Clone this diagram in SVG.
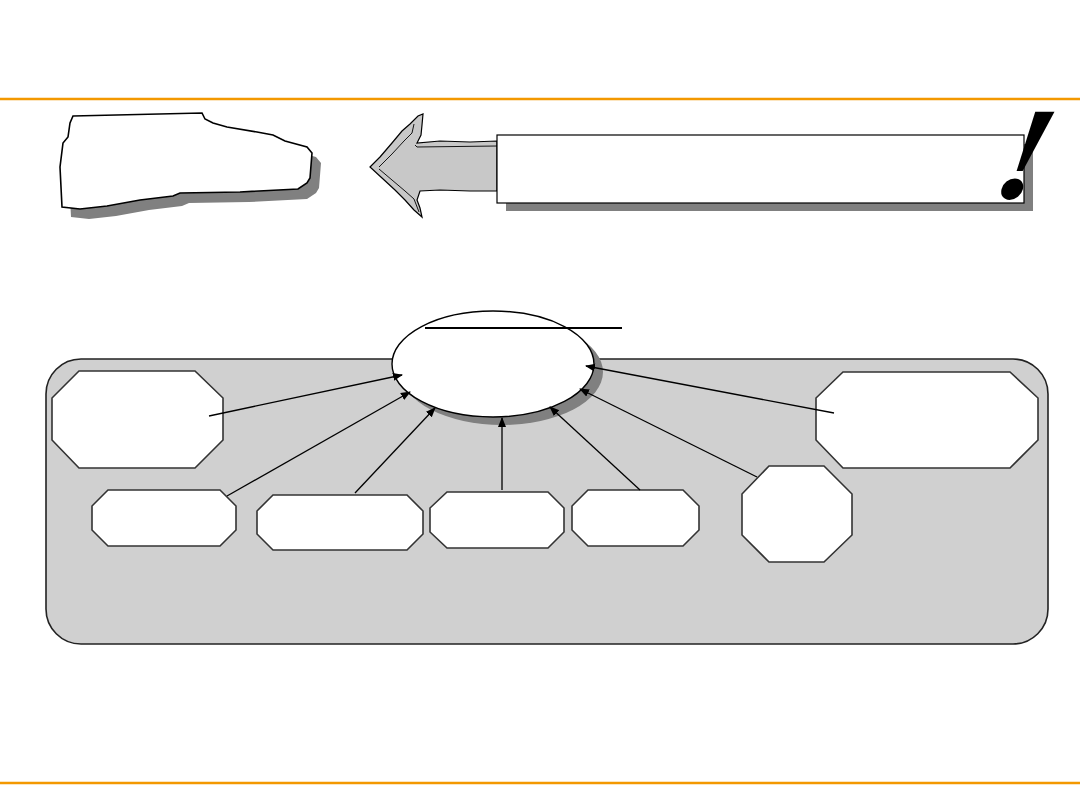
<svg xmlns="http://www.w3.org/2000/svg" width="1080" height="810" viewBox="0 0 1080 810">
<style>
.rule{stroke:#F39800;stroke-width:2.5;fill:none}
.oct{fill:#FFFFFF;stroke:#333333;stroke-width:1.6}
.con{stroke:#000000;stroke-width:1.3;fill:none;marker-end:url(#ah)}
.shadow{fill:#808080;stroke:none}
</style>
<defs>
<marker id="ah" viewBox="0 0 10 10" refX="9" refY="5" markerWidth="10" markerHeight="10" markerUnits="userSpaceOnUse" orient="auto">
<path d="M0,1 L10,5 L0,9 z" fill="#000000"/>
</marker>
</defs>
<rect width="1080" height="810" fill="#FFFFFF"/>
<line class="rule" x1="0" y1="99" x2="1080" y2="99"/>
<line class="rule" x1="0" y1="783" x2="1080" y2="783"/>

<g id="rock">
<path class="shadow" transform="translate(9,10)" d="M73,116 L202,113 L205,119 L213,123 L227,127 L257,132 L273,135 L285,141 L307,147 L312,153 L310,178 L307,183 L298,189 L240,192 L180,193 L173,196 L140,200 L107,206 L80,209 L62,207 L60,167 L63,143 L68,137 L70,123 Z"/>
<path fill="#FFFFFF" stroke="#000000" stroke-width="1.6" d="M73,116 L202,113 L205,119 L213,123 L227,127 L257,132 L273,135 L285,141 L307,147 L312,153 L310,178 L307,183 L298,189 L240,192 L180,193 L173,196 L140,200 L107,206 L80,209 L62,207 L60,167 L63,143 L68,137 L70,123 Z"/>
</g>

<g id="big-arrow">
<path fill="#C8C8C8" stroke="#000000" stroke-width="1.2" d="M370,167 L380,157 L392,143 L402,131 L410,124 L418,116 L423,114 L422,125 L421,135 L417,143 L440,141 L470,142 L497,141 L497,191 L470,191 L440,190 L420,191 L417,200 L420,208 L422,217 L414,210 L405,200 L395,190 L382,178 Z"/>
<path fill="none" stroke="#000000" stroke-width="0.9" d="M379,167 L392,154 L404,141 L412,133 L414,124 M415,145 L417,147 L497,146 M379,169 L392,180 L405,191 L414,199 L419,212"/>
</g>

<g id="banner">
<rect class="shadow" x="506" y="144" width="527" height="67"/>
<rect x="497" y="135" width="527" height="68" fill="#FFFFFF" stroke="#000000" stroke-width="1.2"/>
<text transform="translate(1015,198) skewX(-14)" x="0" y="0" font-family="Liberation Serif, serif" font-size="132" font-weight="bold" font-style="italic" text-anchor="middle" fill="#000000">!</text>
</g>

<g id="panel">
<rect x="46" y="359" width="1002" height="285" rx="35" ry="35" fill="#D0D0D0" stroke="#222222" stroke-width="1.6"/>
</g>

<g id="hub">
<ellipse class="shadow" cx="502" cy="372" rx="101" ry="53"/>
<ellipse cx="493" cy="364" rx="101" ry="53" fill="#FFFFFF" stroke="#000000" stroke-width="1.4"/>
<line x1="425" y1="328" x2="622" y2="328" stroke="#000000" stroke-width="2"/>
</g>

<g id="node-top-left">
<polygon class="oct" points="79,371 195,371 223,398 223,440 195,468 79,468 52,440 52,398"/>
</g>
<g id="node-top-right">
<polygon class="oct" points="843,372 1010,372 1038,398 1038,440 1010,468 843,468 816,440 816,398"/>
</g>
<g id="node-octagon">
<polygon class="oct" points="769,466 824,466 852,494 852,535 824,562 769,562 742,535 742,494"/>
</g>
<g id="node-b1">
<polygon class="oct" points="108,490 220,490 236,506 236,530 220,546 108,546 92,530 92,506"/>
</g>
<g id="node-b2">
<polygon class="oct" points="273,495 407,495 423,511 423,534 407,550 273,550 257,534 257,511"/>
</g>
<g id="node-b3">
<polygon class="oct" points="447,492 548,492 564,508 564,532 548,548 447,548 430,532 430,508"/>
</g>
<g id="node-b4">
<polygon class="oct" points="588,490 683,490 699,506 699,530 683,546 588,546 572,530 572,506"/>
</g>

<g id="connectors">
<line class="con" x1="209" y1="416" x2="402" y2="375"/>
<line class="con" x1="227" y1="496" x2="410" y2="392"/>
<line class="con" x1="355" y1="493" x2="435" y2="408"/>
<line class="con" x1="502" y1="490" x2="502" y2="418"/>
<line class="con" x1="640" y1="490" x2="550" y2="407"/>
<line class="con" x1="757" y1="477" x2="580" y2="389"/>
<line class="con" x1="834" y1="413" x2="586" y2="366"/>
</g>
</svg>
